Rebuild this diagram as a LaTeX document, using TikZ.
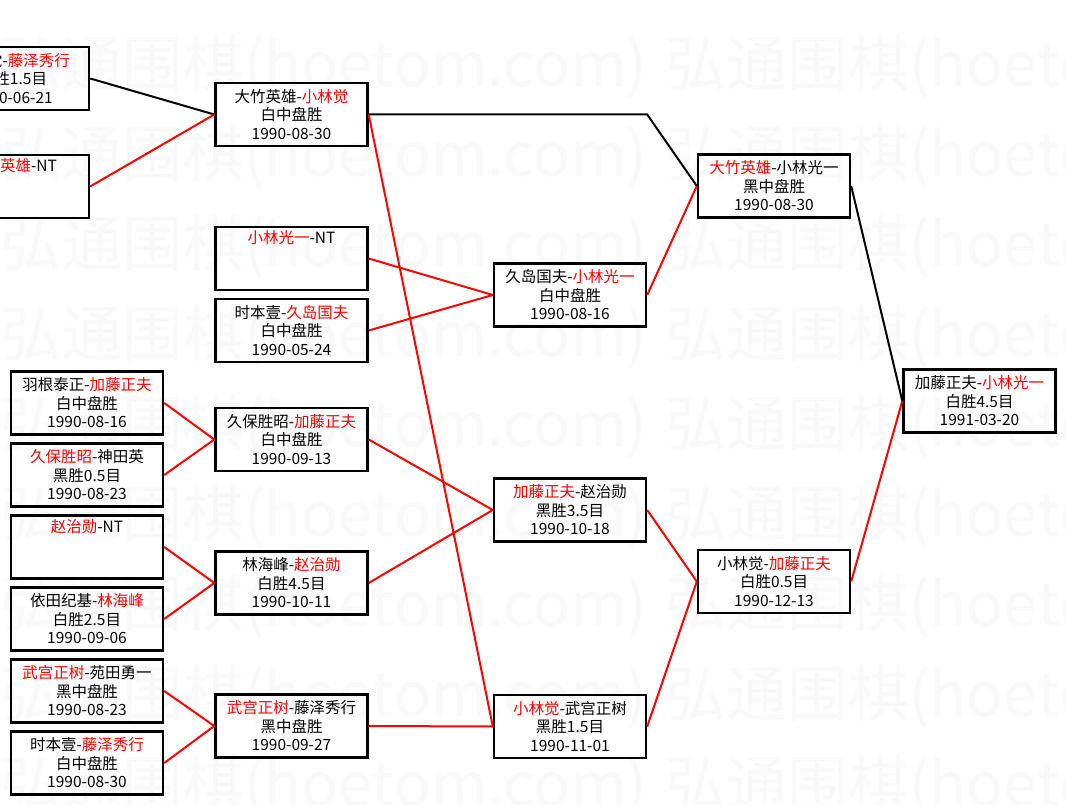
\documentclass[tikz,border=0pt]{standalone}
\usepackage{fontspec}
\setmainfont{Noto Sans CJK SC}
\usepackage{xcolor}

\begin{document}
\begin{tikzpicture}[x=1pt, y=-1pt, node distance=72pt]
    \tikzstyle{match} = [rectangle, minimum width=152pt, minimum height=63pt, text centered, align=center, draw=black, line width=2.4pt, font=\fontsize{15.5pt}{18.5pt}\selectfont]
    \tikzstyle{wmtext} = [anchor=west, inner sep=0pt, text=black!2.5, font=\fontsize{61pt}{61pt}\selectfont]
    \tikzstyle{winline} = [draw=red, line width=2pt]
    \tikzstyle{loseline} = [draw=black, line width=2pt]

    \useasboundingbox (0,0) rectangle (1066,805);
    \fill [white] (0,0) rectangle (1066,805);
    \clip (0,0) rectangle (1066,805);

    \foreach \y in {67,157,...,787} {
        \node (wmA\y) [wmtext] at (0,\y) {弘通围棋(hoetom.com)};
        \node (wmB\y) [wmtext] at (665,\y) {弘通围棋(hoetom.com)};
    }

    \node (p1) [match] at (13,78.5) {小林觉-\textcolor{red}{藤泽秀行}\\白胜1.5目\\1990-06-21};
    \node (p2) [match] at (13,186.5) {\textcolor{red}{大竹英雄}-NT\\\strut\\\strut};
    \node (b1) [match] at (291.5,114.5) {大竹英雄-\textcolor{red}{小林觉}\\白中盘胜\\1990-08-30};
    \node (b2) [match] at (291.5,258.5) {\textcolor{red}{小林光一}-NT\\\strut\\\strut};
    \node (b3) [match, below of=b2] {时本壹-\textcolor{red}{久岛国夫}\\白中盘胜\\1990-05-24};
    \node (a1) [match] at (87,403) {羽根泰正-\textcolor{red}{加藤正夫}\\白中盘胜\\1990-08-16};
    \node (a2) [match, below of=a1] {\textcolor{red}{久保胜昭}-神田英\\黑胜0.5目\\1990-08-23};
    \node (a3) [match, below of=a2] {\textcolor{red}{赵治勋}-NT\\\strut\\\strut};
    \node (a4) [match, below of=a3] {依田纪基-\textcolor{red}{林海峰}\\白胜2.5目\\1990-09-06};
    \node (a5) [match, below of=a4] {\textcolor{red}{武宫正树}-苑田勇一\\黑中盘胜\\1990-08-23};
    \node (a6) [match, below of=a5] {时本壹-\textcolor{red}{藤泽秀行}\\白中盘胜\\1990-08-30};
    \node (b4) [match] at (291.5,439.5) {久保胜昭-\textcolor{red}{加藤正夫}\\白中盘胜\\1990-09-13};
    \node (b5) [match] at (291.5,583) {林海峰-\textcolor{red}{赵治勋}\\白胜4.5目\\1990-10-11};
    \node (b6) [match] at (291.5,726) {\textcolor{red}{武宫正树}-藤泽秀行\\黑中盘胜\\1990-09-27};
    \node (c1) [match] at (570,295) {久岛国夫-\textcolor{red}{小林光一}\\白中盘胜\\1990-08-16};
    \node (c2) [match] at (570,510) {\textcolor{red}{加藤正夫}-赵治勋\\黑胜3.5目\\1990-10-18};
    \node (c3) [match] at (570,726.5) {\textcolor{red}{小林觉}-武宫正树\\黑胜1.5目\\1990-11-01};
    \node (d1) [match] at (774,186) {\textcolor{red}{大竹英雄}-小林光一\\黑中盘胜\\1990-08-30};
    \node (d2) [match] at (774,581.5) {小林觉-\textcolor{red}{加藤正夫}\\白胜0.5目\\1990-12-13};
    \node (e1) [match] at (979.5,401) {加藤正夫-\textcolor{red}{小林光一}\\白胜4.5目\\1991-03-20};

    \draw [loseline] (p1.east) -- (b1.west);
    \draw [winline] (p2.east) -- (b1.west);
    \draw [loseline] (b1.east) -- (b1.east -| c1.east) -- (d1.west);
    \draw [winline] (b1.east) -- (c3.west);
    \draw [winline] (b2.east) -- (c1.west);
    \draw [winline] (b3.east) -- (c1.west);
    \draw [winline] (a1.east) -- (b4.west);
    \draw [winline] (a2.east) -- (b4.west);
    \draw [winline] (a3.east) -- (b5.west);
    \draw [winline] (a4.east) -- (b5.west);
    \draw [winline] (a5.east) -- (b6.west);
    \draw [winline] (a6.east) -- (b6.west);
    \draw [winline] (b4.east) -- (c2.west);
    \draw [winline] (b5.east) -- (c2.west);
    \draw [winline] (b6.east) -- (c3.west);
    \draw [winline] (c1.east) -- (d1.west);
    \draw [winline] (c2.east) -- (d2.west);
    \draw [winline] (c3.east) -- (d2.west);
    \draw [loseline] (d1.east) -- (e1.west);
    \draw [winline] (d2.east) -- (e1.west);
\end{tikzpicture}
\end{document}
